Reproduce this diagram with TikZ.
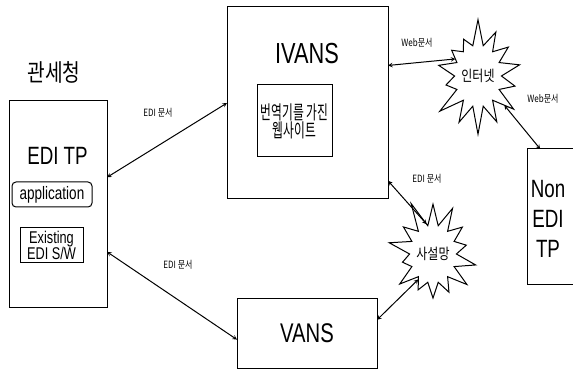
\documentclass[tikz,border=0pt]{standalone}
\usepackage{fontspec}
\setmainfont{Liberation Sans}
\newfontfamily\narrowfont[FakeStretch=0.75]{Liberation Sans}
\newfontfamily\kofont[FakeStretch=0.8]{Noto Sans CJK KR}
\newfontfamily\konarrow[FakeStretch=0.62]{Noto Sans CJK KR}
\usetikzlibrary{shapes.symbols}
\newlength{\du}
\setlength{\du}{1\unitlength}
\tikzset{
  diabox/.style={draw=dialinecolor,fill=diafillcolor,rectangle,inner sep=0pt,outer sep=0pt},
  diatext/.style={anchor=center,inner sep=0pt,outer sep=0pt,color=dialinecolor,align=center},
  diacloud/.style={draw=dialinecolor,fill=diafillcolor,starburst,inner sep=0pt,outer sep=0pt,
    starburst points=14,starburst point height=28\du},
  dialabel/.style={diatext,font=\kofont\fontsize{10}{11}\selectfont},
  dialink/.style={stealth-stealth,draw=dialinecolor},
}

\begin{document}
\begin{tikzpicture}[even odd rule]
\pgftransformxscale{1.000000}
\pgftransformyscale{-1.000000}
\definecolor{dialinecolor}{rgb}{0.000000, 0.000000, 0.000000}
\definecolor{diafillcolor}{rgb}{1.000000, 1.000000, 1.000000}
\pgfsetlinewidth{1.000000\du}
\useasboundingbox (0\du,0\du) rectangle (573\du,371\du);
% customs side
\node[diatext,font=\kofont\fontsize{24}{26}\selectfont] (kcs) at (54\du,72\du){관세청};
\node[diabox,minimum width=98\du,minimum height=207\du] (tp) at (58\du,204.5\du){};
\node[diatext,font=\narrowfont\fontsize{25}{28}\selectfont] (tptxt) at (57.5\du,156\du){EDI TP};
\node[diabox,rounded corners=4\du,minimum width=80\du,minimum height=25\du,font=\narrowfont\fontsize{18}{20}\selectfont] (app) at (52\du,194.5\du){application};
\node[diabox,minimum width=63\du,minimum height=35\du,align=center,font=\narrowfont\fontsize{17}{15}\selectfont] (sw) at (51.5\du,245.5\du){Existing\\EDI S/W};
% IVANS
\node[diabox,minimum width=161\du,minimum height=192\du] (ivans) at (307.5\du,103\du){};
\node[diatext,font=\narrowfont\fontsize{29}{30}\selectfont] (ivanstxt) at (307\du,54\du){IVANS};
\node[diabox,minimum width=75\du,minimum height=72\du,align=center,font=\konarrow\fontsize{19}{18}\selectfont] (site) at (294.5\du,121\du){번역기를 가진\\웹사이트};
% VANS
\node[diabox,minimum width=140\du,minimum height=69\du,font=\narrowfont\fontsize{27}{30}\selectfont] (vans) at (307\du,333.5\du){VANS};
% networks
\node[diacloud,random starburst=7,minimum width=58\du,minimum height=118\du,font=\kofont\fontsize{15}{16}\selectfont] (inet) at (478\du,76\du){인터넷};
\node[diacloud,random starburst=11,minimum width=58\du,minimum height=114\du,font=\kofont\fontsize{15}{16}\selectfont] (priv) at (433\du,254\du){사설망};
% non EDI partner
\node[diabox,minimum width=48\du,minimum height=136\du] (non) at (551\du,217\du){};
\node[diatext,font=\narrowfont\fontsize{25}{30}\selectfont] (nontxt) at (548\du,219\du){Non\\EDI\\TP};
% links
\draw[dialink] (tp.29) -- (ivans.west);
\draw[dialink] (tp.-44) -- (vans.185);
\draw[dialink] (ivans.25) -- (inet.143);
\draw[dialink] (inet.-48) -- (non.99);
\draw[dialink] (ivans.-44) -- (priv.102);
\draw[dialink] (priv.240) -- (vans.11);
\node[dialabel] (edidoca) at (158\du,113\du){EDI 문서};
\node[dialabel] (edidocb) at (178\du,265\du){EDI 문서};
\node[dialabel] (edidocc) at (427\du,179\du){EDI 문서};
\node[dialabel] (webdoca) at (417\du,43\du){Web문서};
\node[dialabel] (webdocb) at (543\du,99\du){Web문서};
\end{tikzpicture}
\end{document}
